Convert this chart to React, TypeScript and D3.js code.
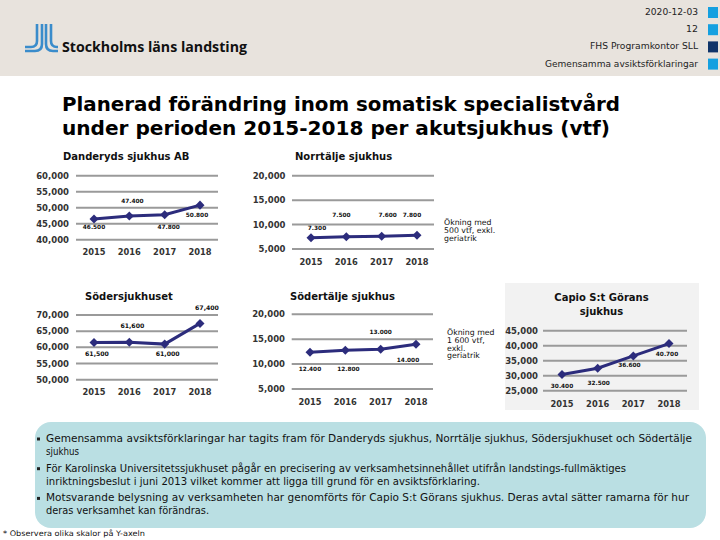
import React from "react";
import * as d3 from "d3";

const years = ["2015", "2016", "2017", "2018"];

const danderydValues = [46500, 47400, 47800, 50800];
const danderydLabels = ["46.500", "47.400", "47.800", "50.800"];
const danderydTicks = [40000, 45000, 50000, 55000, 60000];

const norrtaljeValues = [7300, 7500, 7600, 7800];
const norrtaljeLabels = ["7.300", "7.500", "7.600", "7.800"];
const norrtaljeTicks = [5000, 10000, 15000, 20000];

const sodersjukhusetValues = [61500, 61600, 61000, 67400];
const sodersjukhusetLabels = ["61,500", "61,600", "61,000", "67,400"];
const sodersjukhusetTicks = [50000, 55000, 60000, 65000, 70000];

const sodertaljeValues = [12400, 12800, 13000, 14000];
const sodertaljeLabels = ["12.400", "12.800", "13.000", "14.000"];
const sodertaljeTicks = [5000, 10000, 15000, 20000];

const capioValues = [30400, 32500, 36600, 40700];
const capioLabels = ["30.400", "32.500", "36.600", "40.700"];
const capioTicks = [25000, 30000, 35000, 40000, 45000];

const headerLines = ["2020-12-03", "12", "FHS Programkontor SLL", "Gemensamma avsiktsförklaringar"];
const titleLines = [
  "Planerad förändring inom somatisk specialistvård",
  "under perioden 2015-2018 per akutsjukhus (vtf)",
];
const bulletLines = [
  ["Gemensamma avsiktsförklaringar har tagits fram för Danderyds sjukhus, Norrtälje sjukhus, Södersjukhuset och Södertälje", "sjukhus"],
  ["För Karolinska Universitetssjukhuset pågår en precisering av verksamhetsinnehållet utifrån landstings-fullmäktiges", "inriktningsbeslut i juni 2013 vilket kommer att ligga till grund för en avsiktsförklaring."],
  ["Motsvarande belysning av verksamheten har genomförts för Capio S:t Görans sjukhus. Deras avtal sätter ramarna för hur", "deras verksamhet kan förändras."],
];
const footnote = "* Observera olika skalor på Y-axeln";

const FONT = "'DejaVu Sans', Verdana, sans-serif";
const LINE = "#2c2c7c";

// layout-only widths for the text lines
const headerWidths = [53, 12, 108, 153];
const bulletWidths = [[646, 33], [580, 434], [643, 163]];

type Chart = {
  title: string[];
  titleX: number;
  titleY: number;
  titleAnchor: string;
  values: number[];
  labels: string[];
  ticks: number[];
  xRange: [number, number];
  yRange: [number, number];
  gridX: [number, number];
  tickX: number;
  yearY: number;
  labelFont: number;
  offsets: [number, number][];
  note?: string[];
  noteX?: number;
  noteY?: number;
  noteStep?: number;
};

const charts: Chart[] = [
  {
    title: ["Danderyds sjukhus AB"], titleX: 63, titleY: 160, titleAnchor: "start",
    values: danderydValues, labels: danderydLabels, ticks: danderydTicks,
    xRange: [94, 200], yRange: [239.7, 175.7], gridX: [76, 218], tickX: 69, yearY: 255,
    labelFont: 5.8,
    offsets: [[0, 10], [3, -13], [4, 14], [-3, 12]],
  },
  {
    title: ["Norrtälje sjukhus"], titleX: 295, titleY: 160, titleAnchor: "start",
    values: norrtaljeValues, labels: norrtaljeLabels, ticks: norrtaljeTicks,
    xRange: [311, 417], yRange: [249, 175.7], gridX: [292, 434], tickX: 285.5, yearY: 265,
    labelFont: 5.8,
    offsets: [[6, -8], [-5, -20], [6, -19], [-5, -18]],
    note: ["Ökning med", "500 vtf, exkl.", "geriatrik"], noteX: 444, noteY: 224.5, noteStep: 8.2,
  },
  {
    title: ["Södersjukhuset"], titleX: 85, titleY: 299.5, titleAnchor: "start",
    values: sodersjukhusetValues, labels: sodersjukhusetLabels, ticks: sodersjukhusetTicks,
    xRange: [94, 200], yRange: [379.7, 315], gridX: [76, 218], tickX: 69, yearY: 394.5,
    labelFont: 6.2,
    offsets: [[3, 14], [3, -14], [3, 12], [7, -13]],
  },
  {
    title: ["Södertälje sjukhus"], titleX: 290, titleY: 299.5, titleAnchor: "start",
    values: sodertaljeValues, labels: sodertaljeLabels, ticks: sodertaljeTicks,
    xRange: [310, 416], yRange: [389, 314.3], gridX: [291.7, 433], tickX: 285, yearY: 405,
    labelFont: 5.8,
    offsets: [[0, 19], [3, 21], [0, -15], [-8, 18]],
    note: ["Ökning med", "1 600 vtf,", "exkl.", "geriatrik"], noteX: 447, noteY: 335, noteStep: 7.8,
  },
  {
    title: ["Capio S:t Görans", "sjukhus"], titleX: 601.5, titleY: 301, titleAnchor: "middle",
    values: capioValues, labels: capioLabels, ticks: capioTicks,
    xRange: [562, 669], yRange: [390.7, 330.7], gridX: [543, 687], tickX: 538, yearY: 406.5,
    labelFont: 5.8,
    offsets: [[0, 13], [1, 17], [-4, 11], [-2, 12]],
  },
];

function LineChart({ c }: { c: Chart }) {
  const x = d3.scalePoint<string>().domain(years).range(c.xRange).padding(0);
  const y = d3
    .scaleLinear()
    .domain([c.ticks[0], c.ticks[c.ticks.length - 1]])
    .range(c.yRange);
  const fmt = d3.format(",");
  const line = d3
    .line<number>()
    .x((_, i) => x(years[i]) as number)
    .y((d) => y(d));
  const diamond = d3.symbol(d3.symbolDiamond2, 52)();
  return (
    <g>
      {c.title.map((t, i) => (
        <text key={t} x={c.titleX} y={c.titleY + i * 13.5} fontFamily={FONT} fontWeight="bold" fontSize={10} textAnchor={c.titleAnchor} fill="#111">
          {t}
        </text>
      ))}
      {c.ticks.map((t) => (
        <g key={t}>
          <line x1={c.gridX[0]} x2={c.gridX[1]} y1={y(t)} y2={y(t)} stroke="#9a9a9a" strokeWidth={2} />
          <text x={c.tickX} y={y(t) + 3} textAnchor="end" fontFamily={FONT} fontSize={8.5} fontWeight="bold" fill="#333">
            {fmt(t)}
          </text>
        </g>
      ))}
      {years.map((yr) => (
        <text key={yr} x={x(yr)} y={c.yearY} textAnchor="middle" fontFamily={FONT} fontSize={8.3} fontWeight="bold" fill="#333">
          {yr}
        </text>
      ))}
      <path d={line(c.values) || ""} fill="none" stroke={LINE} strokeWidth={3} />
      {c.values.map((v, i) => (
        <path key={i} d={diamond || ""} transform={`translate(${x(years[i])},${y(v)})`} fill={LINE} />
      ))}
      {c.values.map((v, i) => (
        <text
          key={"l" + i}
          x={(x(years[i]) as number) + c.offsets[i][0]}
          y={y(v) + c.offsets[i][1]}
          textAnchor="middle"
          fontFamily={FONT}
          fontWeight="bold"
          fontSize={c.labelFont}
          fill="#111"
        >
          {c.labels[i]}
        </text>
      ))}
      {c.note &&
        c.note.map((n, i) => (
          <text key={n} x={c.noteX} y={(c.noteY as number) + i * (c.noteStep as number)} fontFamily={FONT} fontSize={7.8} fill="#111">
            {n}
          </text>
        ))}
    </g>
  );
}

export default function App() {
  const squareColors = ["#14a0e0", "#14a0e0", "#0f3469", "#14a0e0"];
  return (
    <svg width={720} height={540} style={{ position: "absolute", left: 0, top: 0, background: "#fff" }}>
      <rect x={0} y={0} width={720} height={76} fill="#e8e3dd" />
      {headerLines.map((h, i) => (
        <text key={h} x={698} y={15 + i * 17.2} textAnchor="end" fontFamily={FONT} fontSize={8.4} fill="#222" textLength={headerWidths[i]} lengthAdjust="spacingAndGlyphs">
          {h}
        </text>
      ))}
      {squareColors.map((col, i) => (
        <rect key={i} x={708} y={7 + i * 17.2} width={10} height={11} fill={col} />
      ))}
      {/* logo */}
      <g fill="none" stroke="#3a8ccb" strokeWidth={2.6} strokeLinecap="butt">
        <path d="M37,24 V41 Q37,47 31,47 H25" />
        <path d="M42,24 V44 Q42,51 35,51 H25" />
        <path d="M46,24 V44 Q46,51 53,51 H58" />
        <path d="M51,24 V41 Q51,47 57,47 H58" />
      </g>
      <text x={62} y={52} fontFamily="'Open Sans', 'Noto Sans', sans-serif" fontWeight="bold" fontSize={15} fill="#111" textLength={185} lengthAdjust="spacingAndGlyphs">
        Stockholms läns landsting
      </text>
      {titleLines.map((t, i) => (
        <text key={t} x={62} y={111 + i * 24} fontFamily={FONT} fontWeight="bold" fontSize={19.5} fill="#000" textLength={i === 0 ? 558 : 548} lengthAdjust="spacingAndGlyphs">
          {t}
        </text>
      ))}
      <rect x={505} y={283} width={194} height={127} fill="#f2f2f2" />
      {charts.map((c, i) => (
        <LineChart key={i} c={c} />
      ))}
      <rect x={35} y={422} width={671} height={106} rx={16} ry={16} fill="#badfe3" />
      {bulletLines.map((lines, bi) =>
        lines.map((l, li) => (
          <g key={bi + "-" + li}>
            {li === 0 && <rect x={37} y={437.5 + bi * 29.7} width={3} height={3} fill="#222" />}
            <text x={46} y={442 + bi * 29.7 + li * 13} fontFamily={FONT} fontSize={9.6} fill="#111" textLength={bulletWidths[bi][li]} lengthAdjust="spacingAndGlyphs">
              {l}
            </text>
          </g>
        ))
      )}
      <text x={3} y={536} fontFamily={FONT} fontSize={7.6} fill="#111" textLength={142} lengthAdjust="spacingAndGlyphs">
        {footnote}
      </text>
    </svg>
  );
}
